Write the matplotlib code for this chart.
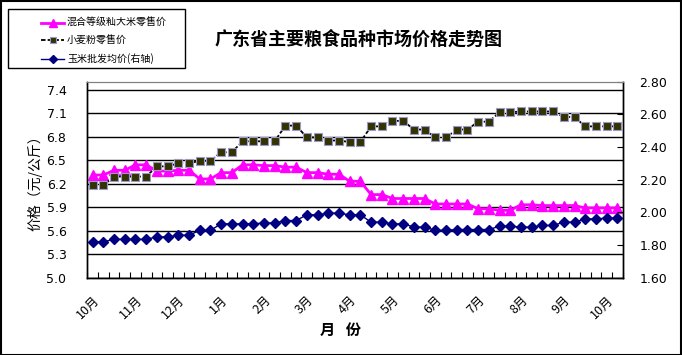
import matplotlib
matplotlib.use("Agg")
import matplotlib.pyplot as plt
from matplotlib.patches import Rectangle

plt.rcParams['font.family'] = ['Noto Sans CJK SC', 'DejaVu Sans']

months = ["10月", "11月", "12月", "1月", "2月", "3月", "4月", "5月", "6月", "7月", "8月", "9月", "10月"]

rice = [6.31, 6.31, 6.37, 6.37, 6.44, 6.44, 6.36, 6.36, 6.37, 6.37,
        6.26, 6.26, 6.34, 6.34, 6.44, 6.44, 6.43, 6.43, 6.41, 6.41,
        6.34, 6.34, 6.32, 6.32, 6.23, 6.23, 6.06, 6.06, 6.01, 6.01,
        6.01, 6.01, 5.94, 5.94, 5.94, 5.94, 5.88, 5.88, 5.86, 5.86,
        5.93, 5.93, 5.92, 5.92, 5.92, 5.92, 5.89, 5.89, 5.89, 5.89]

wheat = [6.18, 6.18, 6.29, 6.29, 6.29, 6.29, 6.42, 6.42, 6.46, 6.46,
         6.49, 6.49, 6.60, 6.60, 6.74, 6.74, 6.74, 6.74, 6.94, 6.94,
         6.79, 6.79, 6.75, 6.75, 6.73, 6.73, 6.93, 6.93, 7.00, 7.00,
         6.89, 6.89, 6.79, 6.79, 6.89, 6.89, 6.99, 6.99, 7.11, 7.11,
         7.12, 7.12, 7.12, 7.12, 7.05, 7.05, 6.93, 6.93, 6.93, 6.93]

corn = [1.82, 1.82, 1.835, 1.835, 1.835, 1.835, 1.85, 1.85, 1.86, 1.86,
        1.89, 1.89, 1.93, 1.93, 1.93, 1.93, 1.935, 1.935, 1.95, 1.95,
        1.985, 1.985, 1.995, 1.995, 1.985, 1.985, 1.94, 1.94, 1.93, 1.93,
        1.91, 1.91, 1.89, 1.89, 1.895, 1.895, 1.895, 1.895, 1.915, 1.915,
        1.91, 1.91, 1.92, 1.92, 1.94, 1.94, 1.96, 1.96, 1.965, 1.965]

labels = ["混合等级籼大米零售价", "小麦粉零售价", "玉米批发均价(右轴)"]
left_ticks = [5.0, 5.3, 5.6, 5.9, 6.2, 6.5, 6.8, 7.1, 7.4]
right_ticks = [1.60, 1.80, 2.00, 2.20, 2.40, 2.60, 2.80]

W, H = 682, 355
fig = plt.figure(figsize=(W / 100, H / 100), dpi=100)
ax = fig.add_axes([87.3 / W, 1 - 277.7 / H, (622.7 - 87.3) / W, (277.7 - 81.7) / H])
ax2 = ax.twinx()

n = len(rice)
x = list(range(n))

ax.set_xlim(-0.5, n - 0.5)
ax.set_ylim(5.0, 7.5)
ax2.set_ylim(1.6, 2.8)

for v in left_ticks:
    ax.axhline(v, color='black', lw=1.0, zorder=1)

l1, = ax.plot(x, rice, color='#FF00FF', lw=2.0, marker='^', ms=6.5,
              mfc='#FF00FF', mec='#FF00FF', zorder=4)
l2, = ax.plot(x, wheat, color='black', lw=1.3, ls=(0, (2.5, 1.2)), marker='s', ms=6,
              mfc='#333300', mec='#9999CC', mew=0.8, zorder=4)
l3, = ax2.plot(x, corn, color='#000080', lw=1.0, marker='D', ms=5,
               mfc='#000080', mec='#000080', zorder=4)

ax.set_yticks(left_ticks)
ax.set_yticklabels([f"{v:.1f}" for v in left_ticks], fontsize=9, family='DejaVu Sans')
ax.tick_params(axis='y', length=0, pad=15)
ax2.set_yticks(right_ticks)
ax2.set_yticklabels([f"{v:.2f}" for v in right_ticks], fontsize=9, family='DejaVu Sans')
ax2.tick_params(axis='y', direction='in', length=4, pad=12)

ax.set_xticks([i - 0.5 for i in range(n + 1)], minor=True)
ax.set_xticks(list(range(0, n, 4)))
ax.set_xticklabels(months, rotation=45, ha='right', va='top', fontsize=9,
                   rotation_mode='anchor')
ax.tick_params(axis='x', which='major', length=0, pad=11)
ax.tick_params(axis='x', which='minor', direction='in', length=4, width=0.8)

for a in (ax, ax2):
    a.spines['top'].set_color('#808080')
    for s in ('left', 'right', 'bottom'):
        a.spines[s].set_color('black')
        a.spines[s].set_linewidth(1.0)

ax.set_ylabel("价格（元/公斤）", fontsize=10, labelpad=3)
fig.text(340 / W, 1 - 330 / H, "月   份", fontsize=11, fontweight='bold',
         ha='center', va='center')
fig.text(359 / W, 1 - 39 / H, "广东省主要粮食品种市场价格走势图", fontsize=13,
         fontweight='bold', ha='center', va='center')

# legend box
fig.patches.append(Rectangle((8 / W, 1 - 68 / H), 177 / W, 59 / H,
                             transform=fig.transFigure, fill=False,
                             edgecolor='black', lw=1.0))
leg = fig.legend([l1, l2, l3], labels, loc='upper left',
                 bbox_to_anchor=(31 / W, 1 - 8 / H), frameon=False,
                 fontsize=7.2, handlelength=2.3, handletextpad=0.3,
                 labelspacing=0.75, borderpad=0.5, markerscale=0.8)

# outer border
fig.patches.append(Rectangle((0.5 / W, 0.5 / H), (W - 1.5) / W, (H - 1.5) / H,
                             transform=fig.transFigure, fill=False,
                             edgecolor='black', lw=1.5))

fig.savefig("out.png", dpi=100)
